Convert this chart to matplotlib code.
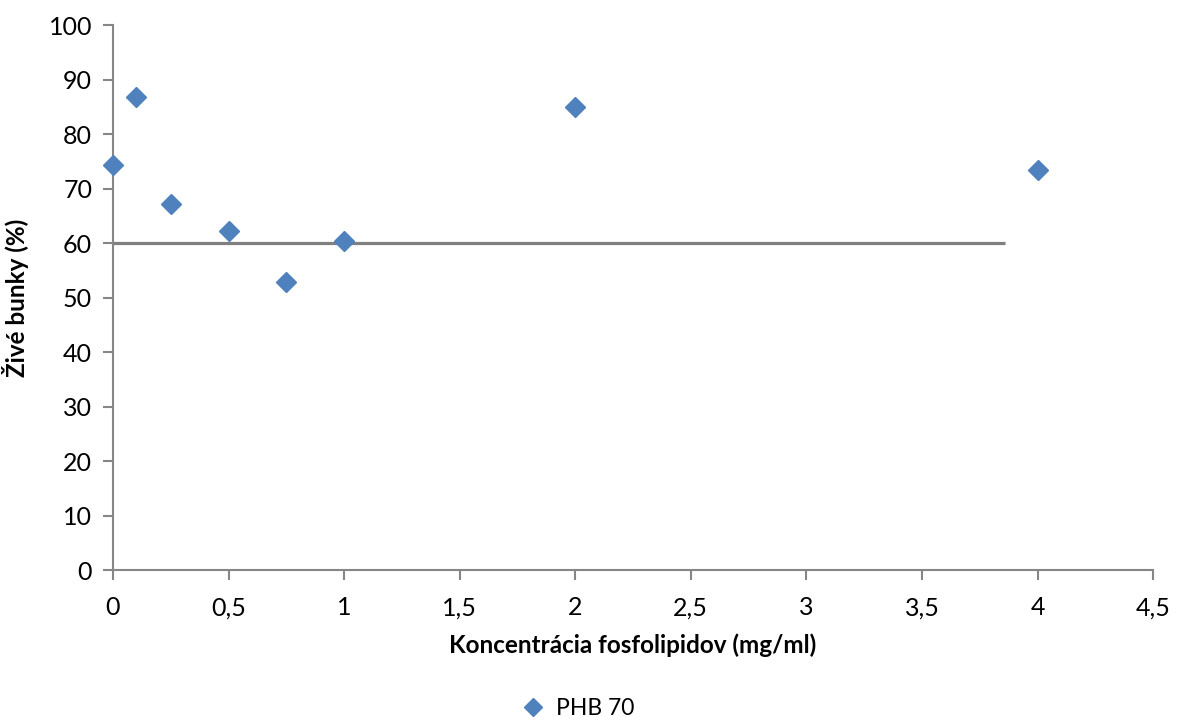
import numpy as np
import matplotlib.pyplot as plt

plt.rcParams['font.family'] = ['Lato', 'DejaVu Sans']

# data
konc = [0, 0.1, 0.25, 0.5, 0.75, 1, 2, 4]
zive = [74.4, 86.8, 67.1, 62.3, 52.9, 60.4, 84.9, 73.4]
hranica_x = [0, 3.86]
hranica_y = [60, 60]

xticks = [0, 0.5, 1, 1.5, 2, 2.5, 3, 3.5, 4, 4.5]
xlabels = ['0', '0,5', '1', '1,5', '2', '2,5', '3', '3,5', '4', '4,5']
yticks = list(range(0, 101, 10))

fig = plt.figure(figsize=(11.83, 7.17), dpi=100)
ax = fig.add_axes([0.0955, 0.205, 0.8792, 0.760])

ax.plot(hranica_x, hranica_y, color='#808080', lw=2.3, solid_capstyle='butt', zorder=2)
ax.plot(konc, zive, ls='none', marker='D', ms=10.5, color='#4F81BD',
        markeredgecolor='#4F81BD', label='PHB 70', zorder=3, clip_on=False)

ax.set_xlim(0, 4.5)
ax.set_ylim(0, 100)
ax.set_xticks(xticks)
ax.set_xticklabels(xlabels)
ax.set_yticks(yticks)

for s in ['top', 'right']:
    ax.spines[s].set_visible(False)
for s in ['left', 'bottom']:
    ax.spines[s].set_color('#868686')
    ax.spines[s].set_linewidth(1.5)
ax.tick_params(axis='both', direction='out', length=7, width=1.5, color='#868686',
               labelsize=18, labelcolor='black')
ax.tick_params(axis='x', pad=12)
ax.tick_params(axis='y', pad=8)

ax.set_xlabel('Koncentrácia fosfolipidov (mg/ml)', fontsize=17.5, fontweight='bold', labelpad=10)
ax.set_ylabel('Živé bunky (%)', fontsize=17.5, fontweight='bold', labelpad=14)

fig.legend(loc='lower center', bbox_to_anchor=(0.484, -0.032), frameon=False,
           fontsize=16.5, handletextpad=0.0, markerscale=0.85)

fig.savefig('out.png', dpi=100)
